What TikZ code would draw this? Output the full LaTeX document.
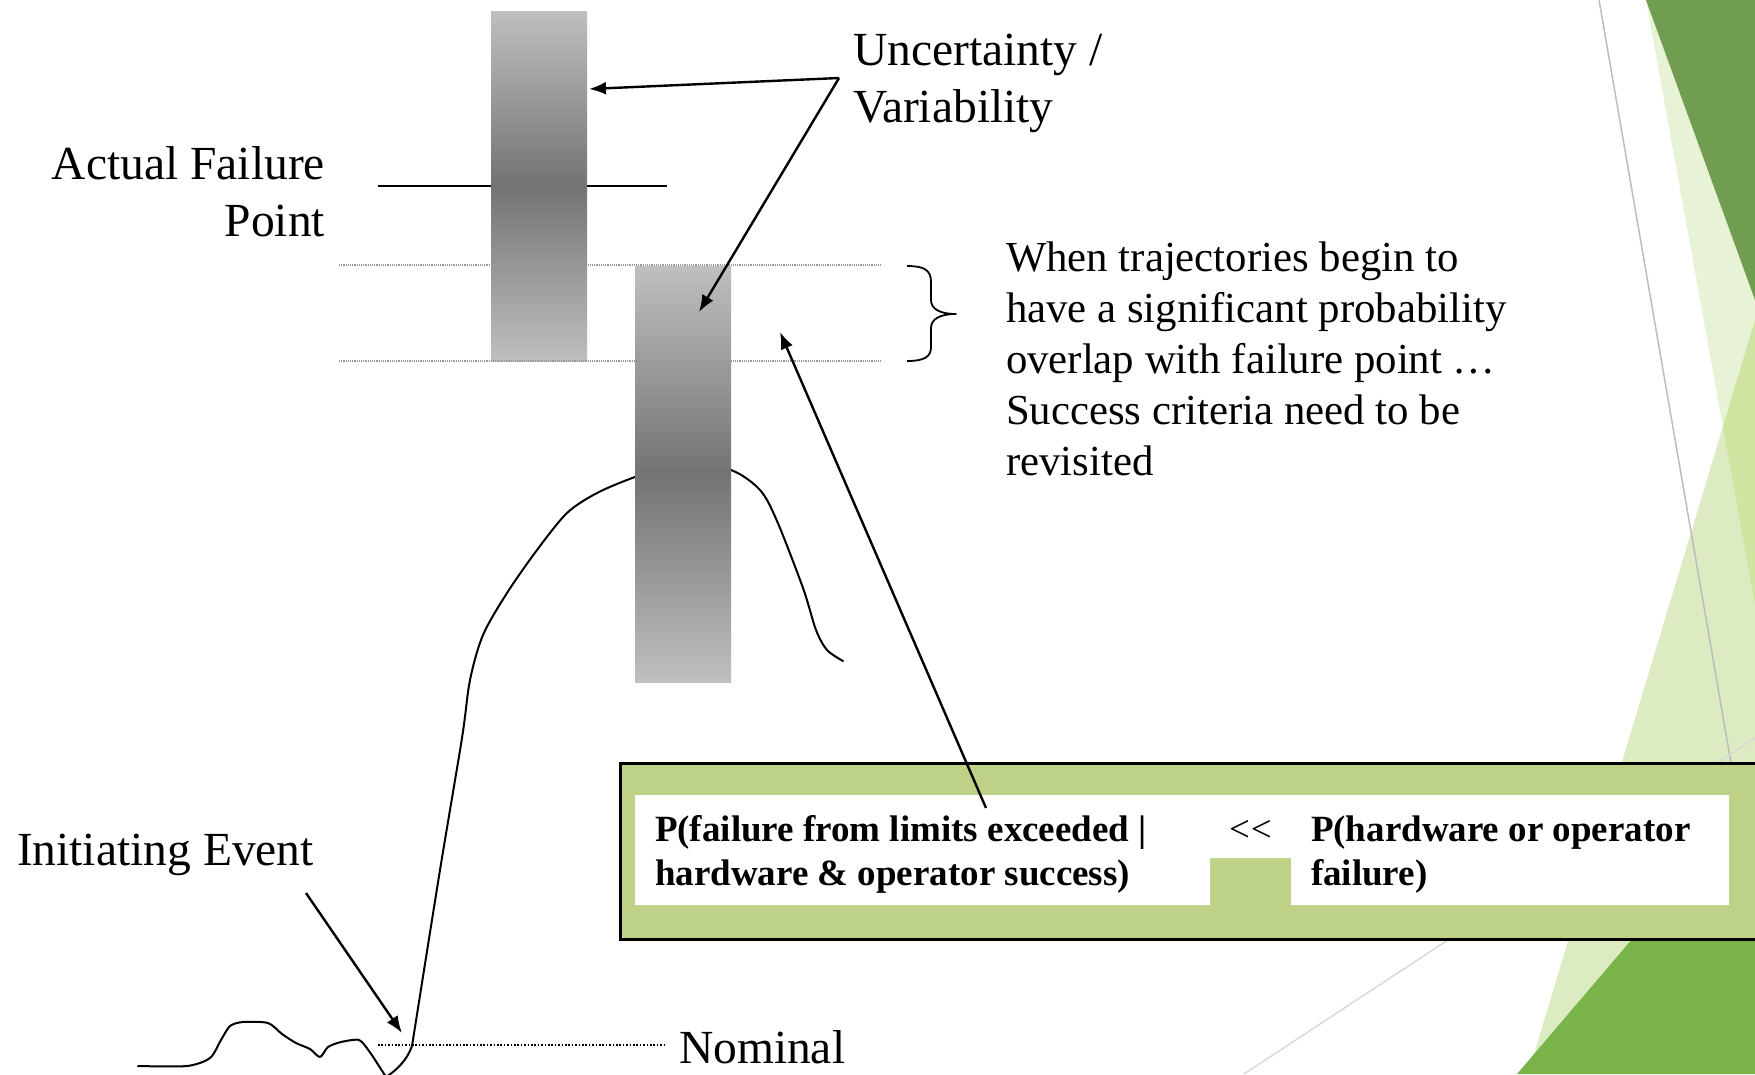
\documentclass[tikz,border=0pt]{standalone}
\usepackage{fontspec}
\setmainfont{Liberation Serif}
\usetikzlibrary{arrows.meta}

\definecolor{boxgreen}{HTML}{BDD286}
\definecolor{facetdark}{HTML}{709D50}
\definecolor{facetmid}{HTML}{7AB34A}
\definecolor{facetpale}{HTML}{E8F2D6}
\definecolor{facetlight}{HTML}{DCEBC1}
\definecolor{facetover}{HTML}{CEE4A0}
\definecolor{barlight}{HTML}{BFBFBF}
\definecolor{bardark}{HTML}{737373}
\definecolor{rulegray}{HTML}{BDBDBD}
\definecolor{rulepale}{HTML}{D9D9D9}

% left- and right-aligned line stacks whose reference point is the first baseline
\newcommand{\stackL}[1]{\begin{tabular}[t]{@{}l@{}}#1\end{tabular}}
\newcommand{\stackR}[1]{\begin{tabular}[t]{@{}r@{}}#1\end{tabular}}

\begin{document}
\begin{tikzpicture}[x=1pt,y=-1pt,
  lbl/.style={inner sep=0pt, outer sep=0pt, font=\fontsize{47.5}{57}\selectfont},
  notetext/.style={inner sep=0pt, outer sep=0pt, font=\fontsize{42.8}{51}\selectfont},
  boldtext/.style={inner sep=0pt, outer sep=0pt, font=\fontsize{37}{44.5}\selectfont\bfseries},
  plaintext/.style={inner sep=0pt, outer sep=0pt, font=\fontsize{37}{44.5}\selectfont},
  bar/.style={rectangle, inner sep=0pt, outer sep=0pt, minimum width=96pt,
    top color=barlight, bottom color=barlight, middle color=bardark},
  traj/.style={line width=2pt, line join=round, line cap=round},
  pointer/.style={line width=2.4pt, -{Latex[length=17pt,width=13pt]}},
  guide/.style={rulegray!80!black, line width=1.1pt, dash pattern=on 1.1pt off 1.1pt},
  nominalline/.style={black, line width=1.6pt, dash pattern=on 1.6pt off 1.8pt}
]
\useasboundingbox (0,0) rectangle (1755,1074);
\clip (0,0) rectangle (1755,1074);

% ---- theme facets on the right edge ----
\fill[facetlight] (1528,1074) -- (1755,320) -- (1755,1074) -- cycle;
\fill[facetpale] (1646,0) -- (1755,605) -- (1755,0) -- cycle;
\begin{scope}
  \clip (1646,0) -- (1755,605) -- (1755,0) -- cycle;
  \fill[facetover] (1528,1074) -- (1755,320) -- (1755,1074) -- cycle;
\end{scope}
\fill[facetdark] (1646,0) -- (1755,300) -- (1755,0) -- cycle;
\fill[facetmid] (1517,1074) -- (1755,795) -- (1755,1074) -- cycle;
\draw[rulegray, line width=1.5pt] (1599,0) -- (1772,1000);
\draw[rulepale, line width=1.5pt] (1244,1074) -- (1755,738);

% ---- failure point level ----
\draw[line width=2pt] (378,186) -- (667,186);

% ---- trajectory from nominal up towards the failure region ----
\draw[traj]
  plot[smooth, tension=0.45] coordinates {(138,1066) (187,1066) (210,1058) (221,1040)
      (230,1026) (243,1022) (268,1023) (282,1034) (296,1043) (310,1049) (320,1057)
      (328,1047) (341,1042) (359,1040) (369,1051) (379,1066) (386,1077)}
  .. controls (397,1070) and (407,1060) .. (412,1046)
  -- plot[smooth, tension=0.5] coordinates {(412,1046) (440,870) (462,738) (470,680)
      (483,635) (507,593) (537,550) (567,513) (597,493) (635,477) (683,462)
      (731,470) (760,490) (777,521) (803,588) (816,630) (827,650) (843,661)};

% ---- uncertainty bands ----
\node[bar, minimum height=350pt] (bar1) at (539,186) {};
\node[bar, minimum height=416pt] (bar2) at (683,474) {};

% ---- overlap window ----
\draw[guide] (339,265) -- (882,265);
\draw[guide] (339,361) -- (882,361);
\draw[line width=1.8pt, line join=round]
  (907,266) .. controls (924,266) and (931,270) .. (931,282) -- (931,300)
  .. controls (931,309) and (940,314) .. (956,314)
  .. controls (940,314) and (931,319) .. (931,328) -- (931,347)
  .. controls (931,357) and (924,361) .. (907,361);

% ---- nominal level ----
\draw[nominalline] (378,1045) -- (666,1045);

% ---- comparison box ----
\node[draw=black, line width=2.5pt, fill=boxgreen, rectangle, inner sep=0pt,
      minimum width=1160pt, minimum height=176pt, anchor=north west] (pbox) at (619,762) {};
\fill[white] (635,795) -- (1729,795) -- (1729,905) -- (1291,905) -- (1291,858)
  -- (1210,858) -- (1210,905) -- (635,905) -- cycle;

% ---- labels ----
\node[lbl, anchor=base west] (uv) at (853,65) {\stackL{Uncertainty /\\Variability}};
\node[lbl, anchor=base east] (afp) at (325,179) {\stackR{Actual Failure\\Point}};
\node[notetext, anchor=base west] (note) at (1006,271)
  {\stackL{When trajectories begin to\\have a significant probability\\overlap with failure point \dots\\Success criteria need to be\\revisited}};
\node[lbl, anchor=base west] (ie) at (17,865) {Initiating Event};
\node[lbl, anchor=base west] (nom) at (679,1063) {Nominal};
\node[boldtext, anchor=base west] (pleft) at (655,841)
  {\stackL{P(failure from limits exceeded |\\hardware \& operator success)}};
\node[plaintext, anchor=base west] (ll) at (1229,841) {<\kern1pt<};
\node[boldtext, anchor=base west] (pright) at (1311,841)
  {\stackL{P(hardware or operator\\failure)}};

% ---- pointers ----
\coordinate (uvfoot) at (839,78);
\coordinate (bar1pt) at (589,89);
\coordinate (bar2pt) at (699,312);
\coordinate (boxfoot) at (986,808);
\coordinate (winpt) at (780,332);
\coordinate (iefoot) at (306,893);
\coordinate (iept) at (402,1033);
\draw[pointer] (uvfoot) -- (bar1pt);
\draw[pointer] (uvfoot) -- (bar2pt);
\draw[pointer] (boxfoot) -- (winpt);
\draw[pointer] (iefoot) -- (iept);
\end{tikzpicture}
\end{document}
